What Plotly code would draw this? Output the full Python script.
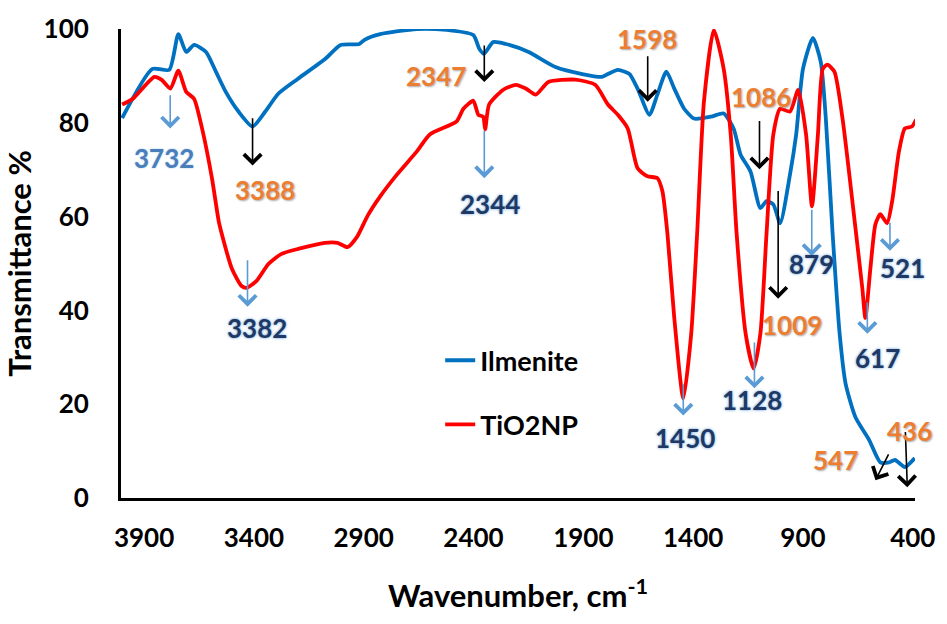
import plotly.graph_objects as go

# ---------------- data ----------------
wn_ilmenite = [4000, 3862, 3785, 3744, 3708, 3672, 3618, 3573, 3528, 3470, 3406, 3348, 3289, 3199,
               3076, 3005, 2920, 2896, 2825, 2658, 2523, 2401, 2374, 2352, 2311, 2253, 2149, 2027,
               1905, 1815, 1788, 1743, 1711, 1689, 1653, 1599, 1563, 1522, 1486, 1441, 1396, 1319,
               1261, 1216, 1184, 1139, 1094, 1066, 1035, 1004, 959, 931, 900, 855, 819, 796, 765,
               733, 706, 661, 598, 548, 508, 481, 436, 391]
t_ilmenite = [81.0, 91.5, 91.3, 98.9, 95.1, 96.6, 95.1, 90.9, 86.6, 82.4, 79.2, 82.4, 86.2, 89.4,
              93.6, 96.6, 96.8, 97.7, 98.9, 100.0, 99.8, 98.7, 95.8, 94.7, 97.2, 96.8, 95.1, 91.9,
              90.4, 89.8, 90.4, 91.3, 90.9, 90.4, 87.3, 81.7, 86.0, 90.9, 87.3, 83.0, 80.9, 81.3,
              82.0, 78.8, 73.2, 69.6, 61.8, 63.3, 62.6, 58.6, 69.0, 77.5, 91.5, 98.1, 93.0, 80.9,
              56.3, 35.0, 24.4, 17.2, 12.3, 7.6, 7.6, 8.1, 6.6, 8.5]

wn_tio2 = [4000, 3952, 3853, 3821, 3780, 3744, 3708, 3672, 3636, 3591, 3560, 3546, 3501, 3456, 3433,
           3388, 3334, 3276, 3199, 3077, 3019, 2974, 2929, 2883, 2825, 2748, 2658, 2599, 2477, 2446,
           2401, 2378, 2356, 2347, 2329, 2266, 2207, 2162, 2117, 2059, 1937, 1846, 1788, 1743, 1698,
           1653, 1608, 1563, 1540, 1517, 1486, 1445, 1409, 1382, 1351, 1306, 1261, 1229, 1202, 1161,
           1125, 1094, 1066, 1035, 1004, 959, 922, 886, 859, 832, 810, 789, 757, 720, 661, 630, 616,
           593, 570, 548, 517, 494, 463, 436, 404, 385]
t_tio2 = [83.9, 85.1, 89.8, 89.2, 87.3, 91.1, 86.6, 85.1, 78.8, 68.2, 59.0, 56.3, 49.0, 45.2, 44.8,
          46.3, 49.9, 52.0, 53.1, 54.4, 54.4, 53.5, 55.8, 60.1, 64.3, 69.0, 73.9, 77.5, 80.3, 83.0,
          84.7, 81.7, 81.3, 78.6, 83.9, 87.0, 88.1, 87.3, 86.0, 88.7, 89.2, 88.1, 83.9, 81.7, 78.8,
          70.3, 68.6, 68.2, 65.4, 56.3, 38.4, 21.2, 35.0, 56.3, 84.5, 99.8, 91.5, 77.5, 56.3, 35.0,
          27.6, 35.0, 56.3, 77.5, 83.0, 82.4, 87.0, 77.5, 62.2, 77.5, 91.5, 92.4, 90.9, 80.9, 57.5,
          44.8, 38.4, 49.0, 58.4, 60.5, 58.6, 63.3, 73.9, 78.8, 79.2, 80.7]

x_ticks = [3900, 3400, 2900, 2400, 1900, 1400, 900, 400]
y_ticks = [0, 20, 40, 60, 80, 100]

# peak labels
peak_labels = ["3732", "3388", "2347", "2344", "1598", "1086", "1009", "3382",
               "1450", "1128", "879", "521", "617", "547", "436"]
# ---------------- label / arrow placement ----------------
label_x = [3809, 3349, 2572, 2327, 1612, 1092, 949, 3384, 1436, 1134, 860, 449, 563, 752, 413]
label_y = [72.6, 65.6, 90.0, 62.6, 97.9, 85.4, 36.9, 36.3, 12.7, 20.8, 49.9, 49.0, 29.9, 8.1, 14.2]
label_style = ["steel", "orange", "orange", "navy", "orange", "orange", "orange", "navy",
               "navy", "navy", "navy", "navy", "navy", "orange", "orange"]
arrow_tail_x = [3781, 3406, 2351, 2351, 1607, 1098, 1013, 3429, 1445, 1121, 860, 504, 607, 507, 434]
arrow_tail_y = [86.2, 81.3, 96.8, 78.6, 94.5, 80.7, 65.8, 51.0, 24.6, 33.5, 61.8, 59.0, 42.0, 9.6, 14.4]
arrow_tip_x = [3781, 3406, 2351, 2351, 1607, 1098, 1013, 3429, 1445, 1121, 860, 504, 607, 570, 425]
arrow_tip_y = [78.8, 70.9, 88.7, 68.2, 84.5, 70.1, 42.5, 40.8, 17.6, 23.4, 51.6, 52.7, 35.0, 3.8, 2.3]

FONT = "Lato"
BLUE = "#0070C0"
RED = "#FF0000"
ARROW_BLUE = "#5B9BD5"

fig = go.Figure()
fig.add_trace(go.Scatter(x=wn_ilmenite, y=t_ilmenite, mode="lines", name="Ilmenite",
                         line=dict(color=BLUE, width=3.8, shape="spline", smoothing=0.6),
                         legendgroup="a"))
fig.add_trace(go.Scatter(x=wn_tio2, y=t_tio2, mode="lines", name="TiO2NP",
                         line=dict(color=RED, width=3.8, shape="spline", smoothing=0.6),
                         legendgroup="b"))

styles = {
    "orange": dict(color="#ED7D31", shadow="1px 1px 2px #A6A6A6"),
    "navy": dict(color="#1F3864", shadow="0px 0px 3px #5B9BD5"),
    "steel": dict(color="#4A7EBB", shadow="0px 0px 2px #9DC3E6"),
}

annotations = []
for i, lab in enumerate(peak_labels):
    st = styles[label_style[i]]
    acol = "#000000" if label_style[i] == "orange" else ARROW_BLUE
    annotations.append(dict(
        x=arrow_tip_x[i], y=arrow_tip_y[i], xref="x", yref="y",
        ax=arrow_tail_x[i], ay=arrow_tail_y[i], axref="x", ayref="y",
        text="", showarrow=True, arrowhead=4, arrowsize=2.1, arrowwidth=1.6,
        arrowcolor=acol))
    annotations.append(dict(
        x=label_x[i], y=label_y[i], xref="x", yref="y", text=lab, showarrow=False,
        xanchor="center", yanchor="middle",
        font=dict(family=FONT, size=26, weight="bold", color=st["color"], shadow=st["shadow"])))

fig.update_layout(
    width=947, height=624,
    margin=dict(l=121, r=24, t=27, b=126),
    plot_bgcolor="white", paper_bgcolor="white",
    font=dict(family=FONT, size=22, color="black", weight="bold"),
    showlegend=True,
    legend=dict(x=0.402, y=0.345, xanchor="left", yanchor="top",
                bgcolor="rgba(0,0,0,0)", tracegroupgap=26,
                font=dict(family=FONT, size=27, weight="bold", color="black")),
    annotations=annotations,
)
fig.update_xaxes(range=[4005, 390], tickvals=x_ticks, ticktext=[str(v) for v in x_ticks],
                 showgrid=False, zeroline=False, showline=True, linecolor="black", linewidth=3,
                 ticks="", ticklabelstandoff=15,
                 tickfont=dict(family=FONT, size=26, weight="bold", color="black"),
                 title=dict(text="Wavenumber, cm<sup>-1</sup>", standoff=34,
                            font=dict(family=FONT, size=31, weight="bold", color="black")))
fig.update_yaxes(range=[0, 100], tickvals=y_ticks, showgrid=False, zeroline=False,
                 showline=True, linecolor="black", linewidth=3, ticks="", ticklabelstandoff=24,
                 tickfont=dict(family=FONT, size=26, weight="bold", color="black"),
                 title=dict(text="Transmittance %", standoff=6,
                            font=dict(family=FONT, size=31, weight="bold", color="black")))

fig.write_html("out.html")
